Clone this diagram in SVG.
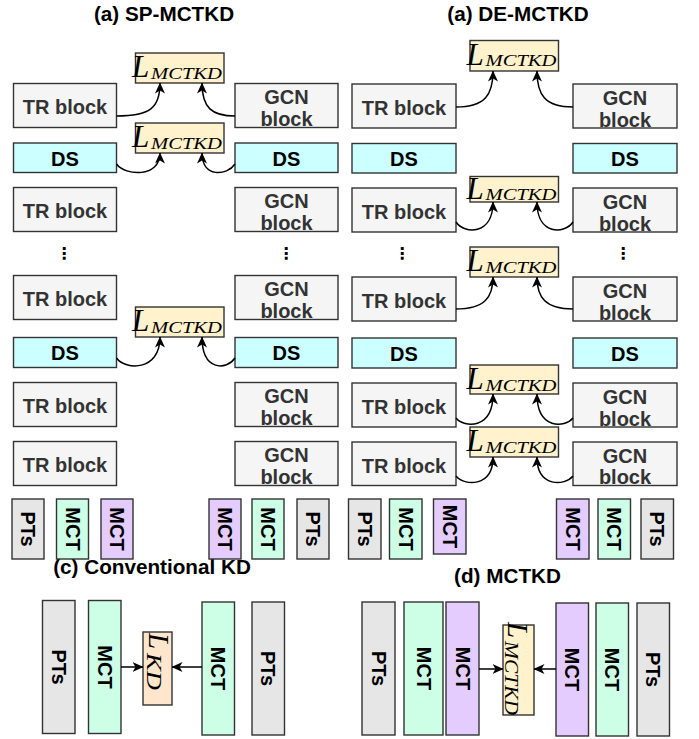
<svg xmlns="http://www.w3.org/2000/svg" width="699" height="739" viewBox="0 0 699 739">
<style>
.g{fill:#f5f5f5;stroke:#333;stroke-width:1.4}
.ds{fill:#ccffff;stroke:#333;stroke-width:1.4}
.lb{fill:#fff2cc;stroke:#333;stroke-width:1.4}
.pt{fill:#e6e6e6;stroke:#333;stroke-width:1.4}
.mg{fill:#ccffe6;stroke:#333;stroke-width:1.4}
.mp{fill:#e5ccff;stroke:#333;stroke-width:1.4}
.kd{fill:#ffe6cc;stroke:#333;stroke-width:1.4}
.t{font-family:"Liberation Sans",Arial,sans-serif;font-weight:bold;font-size:20px;text-anchor:middle;fill:#333}
.k{font-family:"Liberation Sans",Arial,sans-serif;font-weight:bold;font-size:20px;text-anchor:middle;fill:#000}
.h{font-family:"Liberation Sans",Arial,sans-serif;font-weight:bold;font-size:20.7px;text-anchor:middle;fill:#000}
.dot{font-family:"DejaVu Sans",sans-serif;font-weight:bold;font-size:16px;text-anchor:middle;fill:#000}
.m{font-family:"Liberation Serif","Times New Roman",serif;font-style:italic;fill:#000}
.L{font-size:31px}
.s{font-size:16.5px}
.c{fill:none;stroke:#000;stroke-width:1.5;marker-end:url(#arr)}
</style>
<defs>
<marker id="arr" viewBox="0 0 11 11" refX="10.5" refY="5.5" markerWidth="11" markerHeight="11" markerUnits="userSpaceOnUse" orient="auto">
<path d="M0,0.5 L11,5.5 L0,10.5 L3,5.5 z" fill="#000"/>
</marker>
</defs>
<rect width="699" height="739" fill="#fff"/>

<g id="titles">
<text class="h" x="164" y="21">(a) SP-MCTKD</text>
<text class="h" x="518" y="21">(a) DE-MCTKD</text>
<text class="h" x="152" y="574">(c) Conventional KD</text>
<text class="h" x="507.5" y="583">(d) MCTKD</text>
</g>

<!-- SP-MCTKD left column -->
<g id="sp-tr1"><rect class="g" x="13.5" y="83.5" width="103" height="44"/><text class="t" x="65" y="114">TR block</text></g>
<g id="sp-ds1"><rect class="ds" x="13.5" y="143" width="103" height="29.5"/><text class="k" x="65" y="165.5">DS</text></g>
<g id="sp-tr2"><rect class="g" x="13.5" y="187.5" width="103" height="44"/><text class="t" x="65" y="218">TR block</text></g>
<g id="sp-dots1"><text class="dot" x="64" y="259">⋮</text></g>
<g id="sp-tr3"><rect class="g" x="13.5" y="275.5" width="103" height="44"/><text class="t" x="65" y="306">TR block</text></g>
<g id="sp-ds2"><rect class="ds" x="13.5" y="337.5" width="103" height="30"/><text class="k" x="65" y="360">DS</text></g>
<g id="sp-tr4"><rect class="g" x="13.5" y="382.5" width="103" height="44"/><text class="t" x="65" y="413">TR block</text></g>
<g id="sp-tr5"><rect class="g" x="13.5" y="441.5" width="103" height="44"/><text class="t" x="65" y="472">TR block</text></g>

<g id="sp-gcn1"><rect class="g" x="235" y="83.5" width="103" height="44"/><text class="t" x="286.5" y="104">GCN</text><text class="t" x="286.5" y="126">block</text></g>
<g id="sp-gds1"><rect class="ds" x="235" y="143" width="103" height="29.5"/><text class="k" x="286.5" y="165.5">DS</text></g>
<g id="sp-gcn2"><rect class="g" x="235" y="187.5" width="103" height="44"/><text class="t" x="286.5" y="208">GCN</text><text class="t" x="286.5" y="230">block</text></g>
<g id="sp-dots2"><text class="dot" x="286" y="259">⋮</text></g>
<g id="sp-gcn3"><rect class="g" x="235" y="275.5" width="103" height="44"/><text class="t" x="286.5" y="296">GCN</text><text class="t" x="286.5" y="318">block</text></g>
<g id="sp-gds2"><rect class="ds" x="235" y="337.5" width="103" height="30"/><text class="k" x="286.5" y="360">DS</text></g>
<g id="sp-gcn4"><rect class="g" x="235" y="382.5" width="103" height="44"/><text class="t" x="286.5" y="403">GCN</text><text class="t" x="286.5" y="425">block</text></g>
<g id="sp-gcn5"><rect class="g" x="235" y="441.5" width="103" height="44"/><text class="t" x="286.5" y="462">GCN</text><text class="t" x="286.5" y="484">block</text></g>

<g id="sp-l1"><rect class="lb" x="135.5" y="53" width="88.5" height="30"/><text class="m L" x="132" y="77">L</text><text class="m s" x="151" y="78.5" textLength="71" lengthAdjust="spacingAndGlyphs">MCTKD</text></g>
<g id="sp-l2"><rect class="lb" x="135.5" y="123" width="88.5" height="30"/><text class="m L" x="132" y="147">L</text><text class="m s" x="151" y="148.5" textLength="71" lengthAdjust="spacingAndGlyphs">MCTKD</text></g>
<g id="sp-l3"><rect class="lb" x="135.5" y="307" width="88.5" height="30"/><text class="m L" x="132" y="331">L</text><text class="m s" x="151" y="332.5" textLength="71" lengthAdjust="spacingAndGlyphs">MCTKD</text></g>

<!-- DE-MCTKD right column -->
<g id="de-tr1"><rect class="g" x="352" y="84" width="104" height="44"/><text class="t" x="404" y="114.5">TR block</text></g>
<g id="de-ds1"><rect class="ds" x="352" y="143.5" width="104" height="29.5"/><text class="k" x="404" y="166">DS</text></g>
<g id="de-tr2"><rect class="g" x="352" y="188" width="104" height="44"/><text class="t" x="404" y="218.5">TR block</text></g>
<g id="de-dots1"><text class="dot" x="402" y="259">⋮</text></g>
<g id="de-tr3"><rect class="g" x="352" y="277" width="104" height="44"/><text class="t" x="404" y="307.5">TR block</text></g>
<g id="de-ds2"><rect class="ds" x="352" y="338" width="104" height="30"/><text class="k" x="404" y="360.5">DS</text></g>
<g id="de-tr4"><rect class="g" x="352" y="383" width="104" height="44"/><text class="t" x="404" y="413.5">TR block</text></g>
<g id="de-tr5"><rect class="g" x="352" y="442" width="104" height="43.5"/><text class="t" x="404" y="472.5">TR block</text></g>

<g id="de-gcn1"><rect class="g" x="573" y="84" width="104" height="44"/><text class="t" x="625" y="104.5">GCN</text><text class="t" x="625" y="126.5">block</text></g>
<g id="de-gds1"><rect class="ds" x="573" y="143.5" width="104" height="29.5"/><text class="k" x="625" y="166">DS</text></g>
<g id="de-gcn2"><rect class="g" x="573" y="188" width="104" height="44"/><text class="t" x="625" y="208.5">GCN</text><text class="t" x="625" y="230.5">block</text></g>
<g id="de-dots2"><text class="dot" x="623" y="259">⋮</text></g>
<g id="de-gcn3"><rect class="g" x="573" y="277" width="104" height="44"/><text class="t" x="625" y="297.5">GCN</text><text class="t" x="625" y="319.5">block</text></g>
<g id="de-gds2"><rect class="ds" x="573" y="338" width="104" height="30"/><text class="k" x="625" y="360.5">DS</text></g>
<g id="de-gcn4"><rect class="g" x="573" y="383" width="104" height="44"/><text class="t" x="625" y="403.5">GCN</text><text class="t" x="625" y="425.5">block</text></g>
<g id="de-gcn5"><rect class="g" x="573" y="442" width="104" height="43.5"/><text class="t" x="625" y="462.5">GCN</text><text class="t" x="625" y="484">block</text></g>

<g id="de-l1"><rect class="lb" x="470" y="40.5" width="88.5" height="30.5"/><text class="m L" x="466.5" y="64.5">L</text><text class="m s" x="485.5" y="66" textLength="71" lengthAdjust="spacingAndGlyphs">MCTKD</text></g>
<g id="de-l2"><rect class="lb" x="470" y="176.5" width="88.5" height="25.5"/><text class="m L" x="466.5" y="199">L</text><text class="m s" x="485.5" y="200" textLength="71" lengthAdjust="spacingAndGlyphs">MCTKD</text></g>
<g id="de-l3"><rect class="lb" x="470" y="247" width="88.5" height="30"/><text class="m L" x="466.5" y="271">L</text><text class="m s" x="485.5" y="272.5" textLength="71" lengthAdjust="spacingAndGlyphs">MCTKD</text></g>
<g id="de-l4"><rect class="lb" x="470" y="365" width="88.5" height="29"/><text class="m L" x="466.5" y="389">L</text><text class="m s" x="485.5" y="390.5" textLength="71" lengthAdjust="spacingAndGlyphs">MCTKD</text></g>
<g id="de-l5"><rect class="lb" x="470" y="427" width="88.5" height="30"/><text class="m L" x="466.5" y="451">L</text><text class="m s" x="485.5" y="452.5" textLength="71" lengthAdjust="spacingAndGlyphs">MCTKD</text></g>

<!-- model rows -->
<g id="sp-pts1"><rect class="pt" x="12" y="499" width="32" height="60"/><text class="k" transform="translate(21,529) rotate(90)">PTs</text></g>
<g id="sp-mct1"><rect class="mg" x="56.5" y="499" width="32" height="60"/><text class="k" transform="translate(65.5,529) rotate(90)">MCT</text></g>
<g id="sp-mct2"><rect class="mp" x="101" y="499" width="32" height="60"/><text class="k" transform="translate(110,529) rotate(90)">MCT</text></g>
<g id="sp-mct3"><rect class="mp" x="209" y="499" width="32" height="60"/><text class="k" transform="translate(218,529) rotate(90)">MCT</text></g>
<g id="sp-mct4"><rect class="mg" x="252" y="499" width="32" height="60"/><text class="k" transform="translate(261,529) rotate(90)">MCT</text></g>
<g id="sp-pts2"><rect class="pt" x="297" y="499" width="32" height="60"/><text class="k" transform="translate(306,529) rotate(90)">PTs</text></g>

<g id="de-pts1"><rect class="pt" x="348.5" y="499" width="32.5" height="60"/><text class="k" transform="translate(357.5,529) rotate(90)">PTs</text></g>
<g id="de-mct1"><rect class="mg" x="389.5" y="499" width="32.5" height="60"/><text class="k" transform="translate(398.5,529) rotate(90)">MCT</text></g>
<g id="de-mct2"><rect class="mp" x="433.5" y="499" width="32.5" height="55"/><text class="k" transform="translate(442.5,526.5) rotate(90)">MCT</text></g>
<g id="de-mct3"><rect class="mp" x="556.5" y="499" width="32.5" height="60"/><text class="k" transform="translate(565.5,529) rotate(90)">MCT</text></g>
<g id="de-mct4"><rect class="mg" x="598" y="499" width="32.5" height="60"/><text class="k" transform="translate(607,529) rotate(90)">MCT</text></g>
<g id="de-pts2"><rect class="pt" x="641" y="499" width="32.5" height="60"/><text class="k" transform="translate(650,529) rotate(90)">PTs</text></g>

<!-- (c) Conventional KD -->
<g id="c-pts1"><rect class="pt" x="42.5" y="600.5" width="32.5" height="133"/><text class="k" transform="translate(51.5,667) rotate(90)">PTs</text></g>
<g id="c-mct1"><rect class="mg" x="88.5" y="600.5" width="32.5" height="133"/><text class="k" transform="translate(97.5,667) rotate(90)">MCT</text></g>
<g id="c-lkd"><rect class="kd" x="143" y="632" width="29" height="73"/><text class="m" font-size="29" transform="translate(149,633) rotate(90)">L</text><text class="m" font-size="22" transform="translate(147,653) rotate(90)" textLength="37" lengthAdjust="spacingAndGlyphs">KD</text></g>
<g id="c-mct2"><rect class="mg" x="202" y="602" width="32.5" height="133"/><text class="k" transform="translate(211,668.5) rotate(90)">MCT</text></g>
<g id="c-pts2"><rect class="pt" x="252" y="602" width="32.5" height="133"/><text class="k" transform="translate(261,668.5) rotate(90)">PTs</text></g>

<!-- (d) MCTKD -->
<g id="d-pts1"><rect class="pt" x="362" y="602" width="33" height="133"/><text class="k" transform="translate(371.5,668.5) rotate(90)">PTs</text></g>
<g id="d-mct1"><rect class="mg" x="404" y="602" width="39" height="133"/><text class="k" transform="translate(416.5,668.5) rotate(90)">MCT</text></g>
<g id="d-mct2"><rect class="mp" x="446" y="602" width="33" height="133"/><text class="k" transform="translate(455.5,668.5) rotate(90)">MCT</text></g>
<g id="d-l"><rect class="lb" x="503" y="625" width="31" height="90"/><text class="m" font-size="29" transform="translate(508,622) rotate(90)">L</text><text class="m" font-size="18" transform="translate(505,641) rotate(90)" textLength="74" lengthAdjust="spacingAndGlyphs">MCTKD</text></g>
<g id="d-mct3"><rect class="mp" x="556" y="603" width="32.5" height="133"/><text class="k" transform="translate(565,669.5) rotate(90)">MCT</text></g>
<g id="d-mct4"><rect class="mg" x="596" y="603" width="32.5" height="133"/><text class="k" transform="translate(605,669.5) rotate(90)">MCT</text></g>
<g id="d-pts2"><rect class="pt" x="637" y="603" width="32.5" height="133"/><text class="k" transform="translate(646,669.5) rotate(90)">PTs</text></g>

<g id="connectors">
<path class="c" d="M116.5,116 C150,116 160,108 160,83"/>
<path class="c" d="M235,116 C212,116 202,108 202,83"/>
<path class="c" d="M116.5,164 C125,176 160,178 160,153"/>
<path class="c" d="M235,164 C227,176 202,178 202,153"/>
<path class="c" d="M116.5,358 C125,370 160,372 160,337"/>
<path class="c" d="M235,358 C227,370 202,372 202,337"/>
<path class="c" d="M456,107 C485,107 493,95 493,71"/>
<path class="c" d="M573,107 C545,107 537,95 537,71"/>
<path class="c" d="M456,222 C464,234 493,236 493,202"/>
<path class="c" d="M573,222 C565,234 537,236 537,202"/>
<path class="c" d="M456,309 C485,309 493,297 493,277"/>
<path class="c" d="M573,309 C545,309 537,297 537,277"/>
<path class="c" d="M456,418 C464,428 493,430 493,394"/>
<path class="c" d="M573,418 C565,428 537,430 537,394"/>
<path class="c" d="M456,476 C464,486 493,488 493,457"/>
<path class="c" d="M573,476 C565,486 537,488 537,457"/>
<path class="c" d="M121,667 L143,667"/>
<path class="c" d="M202,667 L172,667"/>
<path class="c" d="M479,669 L503,669"/>
<path class="c" d="M556,669 L534,669"/>
</g>
</svg>
